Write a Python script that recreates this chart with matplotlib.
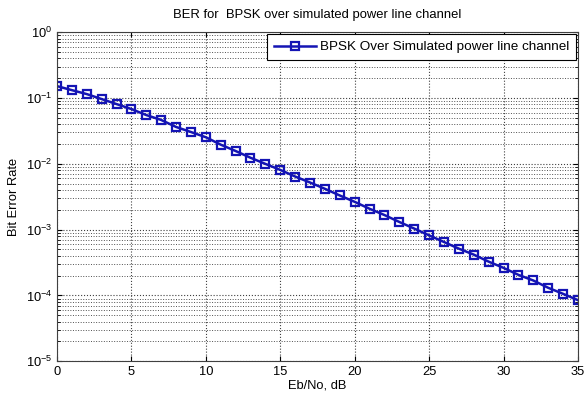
import matplotlib
matplotlib.use("Agg")
import matplotlib.pyplot as plt
import numpy as np

# Eb/No in dB and read-off BER values
ebno_db = list(range(0, 36))
ber = [0.152, 0.132, 0.115, 0.0966, 0.0811, 0.0681, 0.0552, 0.0465, 0.0364, 0.0305,
       0.0254, 0.0196, 0.0157, 0.0124, 0.0100, 0.0081, 0.00643, 0.00521, 0.00418, 0.00331,
       0.00265, 0.00208, 0.00167, 0.00131, 0.00104, 8.2e-4, 6.5e-4, 5.15e-4, 4.18e-4, 3.27e-4,
       2.63e-4, 2.06e-4, 1.69e-4, 1.31e-4, 1.06e-4, 8.5e-5]
x_ticks = [0, 5, 10, 15, 20, 25, 30, 35]

plt.rcParams["font.family"] = ["Liberation Sans", "DejaVu Sans"]
plt.rcParams["font.size"] = 9.3

fig = plt.figure(figsize=(5.84, 3.99), dpi=100)
ax = fig.add_axes([0.0976, 0.0945, 0.892, 0.8246])

ax.semilogy(ebno_db, ber, color="#1414b4", linewidth=1.8, marker="s", markersize=6.2,
            markerfacecolor="none", markeredgecolor="#1414b4", markeredgewidth=1.6,
            label="BPSK Over Simulated power line channel")

ax.set_xlim(0, 35)
ax.set_ylim(1e-5, 1e0)
ax.set_xticks(x_ticks)
ax.grid(True, which="major", linestyle=":", color="#404040", linewidth=0.8)
ax.grid(True, which="minor", axis="y", linestyle=":", color="#505050", linewidth=0.7)
ax.tick_params(which="both", direction="in", top=True, right=True)
ax.tick_params(which="minor", length=2)
for s in ax.spines.values():
    s.set_color("#404040")

ax.set_title("BER for  BPSK over simulated power line channel", fontsize=9.4, pad=10)
ax.set_xlabel("Eb/No, dB", labelpad=1)
ax.set_ylabel("Bit Error Rate")

leg = ax.legend(loc="upper right", fancybox=False, framealpha=1, edgecolor="black",
                borderaxespad=0.15, handlelength=3.1, handletextpad=0.3, borderpad=0.5,
                fontsize=9.7)
leg.get_frame().set_linewidth(0.8)

fig.savefig("out.png", dpi=100)
